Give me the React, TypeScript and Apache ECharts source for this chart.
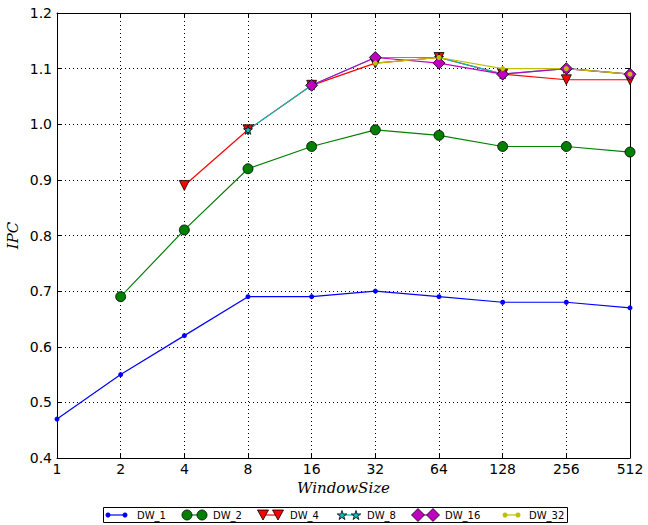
import React, { useEffect, useRef } from "react";
import * as echarts from "echarts";

const categories = ["1", "2", "4", "8", "16", "32", "64", "128", "256", "512"];
const yTicks = [0.4, 0.5, 0.6, 0.7, 0.8, 0.9, 1.0, 1.1, 1.2];

const dw1 = [0.47, 0.55, 0.62, 0.69, 0.69, 0.70, 0.69, 0.68, 0.68, 0.67];
const dw2 = [null, 0.69, 0.81, 0.92, 0.96, 0.99, 0.98, 0.96, 0.96, 0.95];
const dw4 = [null, null, 0.89, 0.99, 1.07, 1.11, 1.12, 1.09, 1.08, 1.08];
const dw8 = [null, null, null, 0.99, 1.07, 1.12, 1.12, 1.09, 1.10, 1.09];
const dw16 = [null, null, null, null, 1.07, 1.12, 1.11, 1.09, 1.10, 1.09];
const dw32 = [null, null, null, null, null, 1.11, 1.12, 1.10, 1.10, 1.09];

const seriesNames = ["DW_1", "DW_2", "DW_4", "DW_8", "DW_16", "DW_32"];

const STAR =
  "path://M0,-1 L0.223,-0.307 L0.951,-0.309 L0.361,0.117 L0.588,0.809 L0,0.38 L-0.588,0.809 L-0.361,0.117 L-0.951,-0.309 L-0.223,-0.307 Z";

function starPoints(cx: number, cy: number, r: number) {
  const pts: number[][] = [];
  for (let i = 0; i < 10; i++) {
    const a = (-90 + i * 36) * (Math.PI / 180);
    const rr = i % 2 === 0 ? r : r * 0.38;
    pts.push([cx + rr * Math.cos(a), cy + rr * Math.sin(a)]);
  }
  return pts;
}

export default function App() {
  const ref = useRef<HTMLDivElement>(null);
  useEffect(() => {
    document.body.style.margin = "0";
    const chart = echarts.init(ref.current!, null, { renderer: "svg" });
    const black = "#000";
    const styles = [
      { color: "#0000ff", symbol: "circle", size: 5, border: 0 },
      { color: "#008000", symbol: "circle", size: 10, border: 0.8 },
      { color: "#ff0000", symbol: "triangle", size: 10, border: 0.8, rotate: 180 },
      { color: "#00bfbf", symbol: STAR, size: 9, border: 0.8 },
      { color: "#bf00bf", symbol: "diamond", size: 12, border: 0.8 },
      { color: "#bfbf00", symbol: "circle", size: 5, border: 0 },
    ];
    const datas = [dw1, dw2, dw4, dw8, dw16, dw32];

    const series = datas.map((d, i) => ({
      name: seriesNames[i],
      type: "line",
      data: d,
      symbol: styles[i].symbol,
      symbolSize: styles[i].size,
      symbolRotate: (styles[i] as any).rotate || 0,
      showAllSymbol: true,
      connectNulls: false,
      lineStyle: { color: styles[i].color, width: 1.2 },
      itemStyle: {
        color: styles[i].color,
        borderColor: styles[i].border ? black : styles[i].color,
        borderWidth: styles[i].border,
      },
    }));

    const legendCy = 515;
    const legendItems = [
      { m1: 108, m2: 125, tx: 137 },
      { m1: 187, m2: 202, tx: 213 },
      { m1: 263, m2: 278, tx: 290 },
      { m1: 342, m2: 356, tx: 367 },
      { m1: 418, m2: 433, tx: 445 },
      { m1: 505, m2: 518, tx: 529 },
    ];
    const legendChildren: any[] = [
      {
        type: "rect",
        shape: { x: 103.5, y: 507.5, width: 464, height: 15 },
        style: { fill: "#fff", stroke: "#000", lineWidth: 1 },
      },
    ];
    const marker = (i: number, cx: number) => {
      const s = styles[i];
      const stroke = s.border ? black : s.color;
      const lw = s.border ? 0.8 : 0;
      if (i === 0 || i === 5) {
        return { type: "circle", shape: { cx, cy: legendCy, r: 2.5 }, style: { fill: s.color } };
      }
      if (i === 1) {
        return { type: "circle", shape: { cx, cy: legendCy, r: 5 }, style: { fill: s.color, stroke, lineWidth: lw } };
      }
      if (i === 2) {
        return {
          type: "polygon",
          shape: { points: [[cx - 5.5, legendCy - 5], [cx + 5.5, legendCy - 5], [cx, legendCy + 5]] },
          style: { fill: s.color, stroke, lineWidth: lw },
        };
      }
      if (i === 3) {
        return { type: "polygon", shape: { points: starPoints(cx, legendCy + 0.5, 5) }, style: { fill: s.color, stroke, lineWidth: lw } };
      }
      return {
        type: "polygon",
        shape: { points: [[cx, legendCy - 6.5], [cx + 6.5, legendCy], [cx, legendCy + 6.5], [cx - 6.5, legendCy]] },
        style: { fill: s.color, stroke, lineWidth: lw },
      };
    };
    legendItems.forEach((it, i) => {
      legendChildren.push({
        type: "line",
        shape: { x1: it.m1, y1: legendCy, x2: it.m2, y2: legendCy },
        style: { stroke: styles[i].color, lineWidth: 1.2 },
      });
      legendChildren.push(marker(i, it.m1));
      legendChildren.push(marker(i, it.m2));
      legendChildren.push({
        type: "text",
        x: it.tx,
        y: legendCy,
        style: {
          text: seriesNames[i],
          fill: "#000",
          font: "10px 'DejaVu Sans'",
          verticalAlign: "middle",
          align: "left",
        },
      });
    });

    const tickFont = { fontFamily: "DejaVu Sans", fontSize: 14, color: "#000" };
    const splitDotted = { show: true, lineStyle: { color: "#000", type: [1, 3], width: 1 } };

    chart.setOption({
      animation: false,
      backgroundColor: "#fff",
      grid: { left: 57, top: 13, width: 573, height: 445, containLabel: false, outerBoundsMode: "none" },
      xAxis: [
        {
          type: "category",
          data: categories,
          boundaryGap: false,
          position: "bottom",
          name: "WindowSize",
          nameLocation: "middle",
          nameGap: 20,
          nameTextStyle: { fontFamily: "DejaVu Serif", fontStyle: "italic", fontSize: 15, color: "#000" },
          axisLine: { show: true, lineStyle: { color: "#000", width: 1 } },
          axisTick: { show: true, inside: true, length: 4, alignWithLabel: true, lineStyle: { color: "#000" } },
          axisLabel: { ...tickFont, margin: 4 },
          splitLine: splitDotted,
        },
        {
          type: "category",
          data: categories,
          boundaryGap: false,
          position: "top",
          axisLine: { show: true, lineStyle: { color: "#000", width: 1 } },
          axisTick: { show: true, inside: true, length: 4, lineStyle: { color: "#000" } },
          axisLabel: { show: false },
          splitLine: { show: false },
        },
      ],
      yAxis: [
        {
          type: "value",
          min: 0.4,
          max: 1.2,
          interval: 0.1,
          position: "left",
          name: "IPC",
          nameLocation: "middle",
          nameGap: 37,
          nameMoveOverlap: false,
          nameTextStyle: { fontFamily: "DejaVu Serif", fontStyle: "italic", fontSize: 15, color: "#000" },
          axisLine: { show: true, lineStyle: { color: "#000", width: 1 } },
          axisTick: { show: true, inside: true, length: 4, lineStyle: { color: "#000" } },
          axisLabel: {
            ...tickFont,
            margin: 5,
            formatter: (v: number) => {
              const t = yTicks.find((y) => Math.abs(y - v) < 1e-6);
              return t !== undefined ? t.toFixed(1) : "";
            },
          },
          splitLine: splitDotted,
        },
        {
          type: "value",
          min: 0.4,
          max: 1.2,
          interval: 0.1,
          position: "right",
          axisLine: { show: true, lineStyle: { color: "#000", width: 1 } },
          axisTick: { show: true, inside: true, length: 4, lineStyle: { color: "#000" } },
          axisLabel: { show: false },
          splitLine: { show: false },
        },
      ],
      series,
      graphic: [{ type: "group", children: legendChildren }],
    });
    return () => chart.dispose();
  }, []);
  return <div ref={ref} style={{ width: 648, height: 525 }} />;
}
